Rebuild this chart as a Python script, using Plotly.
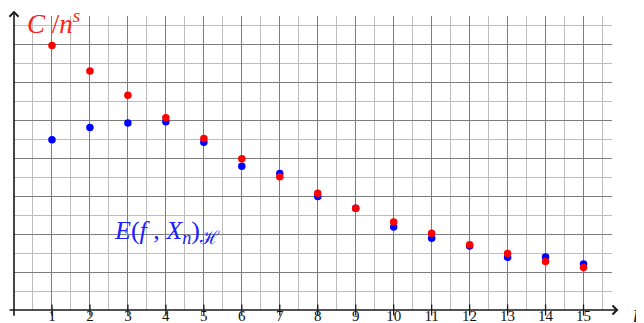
import plotly.graph_objects as go

n_values = list(range(1, 16))
tick_labels = [str(n) for n in n_values]
red_values = [6.97, 6.30, 5.66, 5.07, 4.52, 3.99, 3.51, 3.08, 2.68, 2.32, 2.02, 1.72, 1.49, 1.28, 1.12]
blue_values = [4.49, 4.81, 4.93, 4.96, 4.42, 3.79, 3.60, 2.99, 2.68, 2.19, 1.89, 1.69, 1.39, 1.40, 1.21]

# page body has an 8px default margin: figure is placed at (8, 8)
OFF = 8
W, H = 644 - OFF, 323 - OFF
serif = "Liberation Serif, DejaVu Serif, serif"
X_MAX, Y_MAX = 15.75, 7.75

fig = go.Figure()

# integer tick marks crossing the x axis
fig.add_trace(go.Scatter(
    x=n_values, y=[0] * len(n_values), mode="markers",
    marker=dict(symbol="line-ns", size=8, line=dict(width=1.3, color="#1a1a1a")),
    cliponaxis=False, hoverinfo="skip", showlegend=False))

fig.add_trace(go.Scatter(
    x=n_values, y=blue_values, mode="markers",
    marker=dict(color="#0000ff", size=7.5, line=dict(width=0)),
    cliponaxis=False, showlegend=False, name="E(f,Xn)H"))
fig.add_trace(go.Scatter(
    x=n_values, y=red_values, mode="markers",
    marker=dict(color="#ff0000", size=7.5, line=dict(width=0)),
    cliponaxis=False, showlegend=False, name="C/n^s"))

annotations = [
    # x axis with arrow (head beyond the grid, tail slightly left of origin)
    dict(x=15.92 / X_MAX, y=0, xref="paper", yref="paper", ax=-612, ay=0,
         axref="pixel", ayref="pixel",
         showarrow=True, arrowhead=4, arrowsize=1.1, arrowwidth=1.6, arrowcolor="#1a1a1a",
         text=" ", font=dict(size=1), standoff=0, startstandoff=0),
    # y axis with arrow
    dict(x=0, y=7.89 / Y_MAX, xref="paper", yref="paper", ax=0, ay=307,
         axref="pixel", ayref="pixel",
         showarrow=True, arrowhead=4, arrowsize=1.1, arrowwidth=1.6, arrowcolor="#1a1a1a",
         text=" ", font=dict(size=1), standoff=0, startstandoff=0),
    dict(x=0.28, y=7.6, xref="x", yref="y", xanchor="left", yanchor="middle",
         text="<i>C</i> /<i>n</i><sup><i>s</i></sup>", showarrow=False,
         font=dict(family=serif, size=27, color="#ff2020")),
    dict(x=2.58, y=2.05, xref="x", yref="y", xanchor="left", yanchor="middle",
         text="<i>E</i>(<i>f</i> , <i>X<sub>n</sub></i>)<sub>ℋ</sub>", showarrow=False,
         font=dict(family=serif, size=26, color="#2020ff")),
    dict(x=16.25 / X_MAX, y=-0.08 / Y_MAX, xref="paper", yref="paper",
         xanchor="left", yanchor="middle",
         text="<i>n</i>", showarrow=False,
         font=dict(family=serif, size=26, color="#1a1a1a")),
]

left, right, top, bottom = 14 - OFF, 612.5 - OFF, 15.5 - OFF, 310 - OFF
fig.update_layout(
    width=W, height=H,
    margin=dict(l=left, r=W - right, t=top, b=H - bottom, autoexpand=False),
    paper_bgcolor="white", plot_bgcolor="white",
    annotations=annotations,
    xaxis=dict(range=[0, X_MAX], tickmode="array", tickvals=n_values, ticktext=tick_labels,
               showgrid=True, gridcolor="#7d7d7d", gridwidth=1,
               minor=dict(dtick=0.5, tick0=0, showgrid=True, gridcolor="#bdbdbd", gridwidth=1),
               zeroline=False, showline=False, ticks="", ticklabelstandoff=-5,
               tickfont=dict(family=serif, size=15, color="#111"), automargin=False, fixedrange=True),
    yaxis=dict(range=[0, Y_MAX], dtick=1, tick0=0, showticklabels=False,
               showgrid=True, gridcolor="#7d7d7d", gridwidth=1,
               minor=dict(dtick=0.5, tick0=0, showgrid=True, gridcolor="#bdbdbd", gridwidth=1),
               zeroline=False, showline=False, ticks="", automargin=False, fixedrange=True),
)

fig.write_html("out.html")
